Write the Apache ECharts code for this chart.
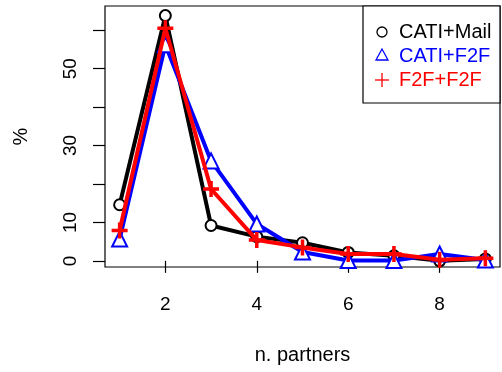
<!DOCTYPE html>
<html><head><meta charset="utf-8">
<script src="https://cdn.jsdelivr.net/npm/echarts@6/dist/echarts.min.js"></script>
<style>html,body{margin:0;padding:0;background:#fff}#c{width:502px;height:372px}</style>
</head><body><div id="c"></div>
<script>
const partners = [1,2,3,4,5,6,7,8,9];
const catiMail = [14.6,63.8,9.2,6.3,4.7,2.2,1.3,0.0,0.5];
const catiF2F  = [5.7,56.2,26.0,9.6,2.3,0.1,0.1,1.8,0.2];
const f2fF2F   = [7.9,60.5,18.7,5.4,3.5,1.8,1.8,0.3,0.7];
const seriesNames = ['CATI+Mail','CATI+F2F','F2F+F2F'];
const xTicks = [2,4,6,8];
const yTicks = [0,10,20,30,40,50,60];
const yLabels = [0,10,30,50];

const FONT = 'Liberation Sans, Arial, sans-serif';
const pair = (ys) => partners.map((x,i)=>[x, ys[i]]);
const chart = echarts.init(document.getElementById('c'), null, {renderer:'canvas'});
chart.setOption({
  animation:false,
  backgroundColor:'#fff',
  grid:{left:105,right:2,top:6,bottom:105,show:true,borderColor:'#000',borderWidth:1.2,containLabel:false},
  xAxis:{type:'value',min:0.68,max:9.32,
    name:'n. partners',nameLocation:'middle',nameGap:78,
    nameTextStyle:{fontFamily:FONT,fontSize:20,color:'#000',verticalAlign:'top'},
    axisLine:{show:false},splitLine:{show:false},
    axisTick:{show:true,inside:false,length:12,customValues:xTicks,lineStyle:{color:'#000',width:1.2}},
    axisLabel:{customValues:xTicks,margin:28,fontFamily:FONT,fontSize:19,color:'#000'}
  },
  yAxis:{type:'value',min:-1.6,max:66.3,
    name:'%',nameLocation:'middle',nameGap:74,nameRotate:90,
    nameTextStyle:{fontFamily:FONT,fontSize:20,color:'#000'},
    axisLine:{show:false},splitLine:{show:false},
    axisTick:{show:true,inside:false,length:12,customValues:yTicks,lineStyle:{color:'#000',width:1.2}},
    axisLabel:{customValues:yLabels,rotate:90,margin:25,fontFamily:FONT,fontSize:19,color:'#000'}
  },
  series:[
    {name:seriesNames[0],type:'line',data:pair(catiMail),z:2,
     lineStyle:{color:'#000',width:4},symbol:'emptyCircle',symbolSize:11,
     itemStyle:{color:'#000',borderColor:'#000',borderWidth:3}},
    {name:seriesNames[1],type:'line',data:pair(catiF2F),z:3,
     lineStyle:{color:'#0000ff',width:4},symbol:'emptyTriangle',symbolSize:15,
     itemStyle:{color:'#0000ff',borderColor:'#0000ff',borderWidth:3}},
    {name:seriesNames[2],type:'line',data:pair(f2fF2F),z:4,
     lineStyle:{color:'#ff0000',width:4},symbol:'path://M-1,0L1,0M0,-1L0,1',symbolSize:16,
     itemStyle:{color:'none',borderColor:'#ff0000',borderWidth:3.5}}
  ],
  graphic:[
    {type:'rect',shape:{x:363,y:6,width:137,height:97},style:{fill:'#fff',stroke:'#000',lineWidth:1.2},z:100},
    {type:'circle',shape:{cx:382,cy:32,r:5},style:{fill:'none',stroke:'#000',lineWidth:1.3},z:101},
    {type:'polygon',shape:{points:[[382,49],[376,60],[388,60]]},style:{fill:'none',stroke:'#0000ff',lineWidth:1.3},z:101},
    {type:'polyline',shape:{points:[[375,80],[389,80]]},style:{stroke:'#ff0000',lineWidth:1.3},z:101},
    {type:'polyline',shape:{points:[[382,73],[382,87]]},style:{stroke:'#ff0000',lineWidth:1.3},z:101},
    {type:'text',x:399,y:32,style:{text:seriesNames[0],fill:'#000',font:'20px '+FONT,verticalAlign:'middle'},z:101},
    {type:'text',x:399,y:56,style:{text:seriesNames[1],fill:'#0000ff',font:'20px '+FONT,verticalAlign:'middle'},z:101},
    {type:'text',x:399,y:80,style:{text:seriesNames[2],fill:'#ff0000',font:'20px '+FONT,verticalAlign:'middle'},z:101}
  ]
});
</script></body></html>
